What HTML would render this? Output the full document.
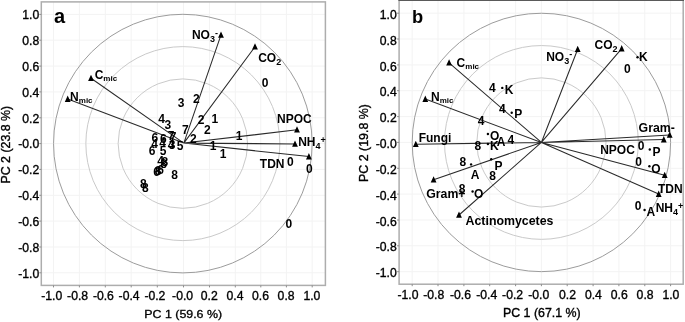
<!DOCTYPE html>
<html><head><meta charset="utf-8"><title>PCA biplots</title>
<style>
html,body{margin:0;padding:0;background:#fff;}
svg{display:block;font-family:"Liberation Sans", Arial, sans-serif;}
.tk{font-size:12.2px;fill:#000;stroke:#000;stroke-width:0.35px;}
.ax{font-size:12.4px;fill:#000;stroke:#000;stroke-width:0.35px;}
.b{font-size:12px;font-weight:bold;fill:#000;}
.s{font-size:9px;font-weight:bold;fill:#000;}
.m{font-size:8px;font-weight:bold;fill:#000;}
.pl{font-size:20.5px;font-weight:bold;fill:#000;}
</style></head><body>
<svg width="685" height="322" viewBox="0 0 685 322">
<rect width="685" height="322" fill="#fff"/>

<g id="panel-a">
<path d="M53.5 1.9V285.4M41.3 272.8H325.4M79.4 1.9V285.4M41.3 247.0H325.4M105.3 1.9V285.4M41.3 221.1H325.4M131.2 1.9V285.4M41.3 195.3H325.4M157.3 1.9V285.4M41.3 169.4H325.4M183.5 1.9V285.4M41.3 143.6H325.4M209.5 1.9V285.4M41.3 117.8H325.4M235.3 1.9V285.4M41.3 91.9H325.4M260.8 1.9V285.4M41.3 66.1H325.4M286.4 1.9V285.4M41.3 40.2H325.4M312.2 1.9V285.4M41.3 14.4H325.4" stroke="#f3f3f3" stroke-width="1" fill="none"/>
<circle cx="182.85" cy="143.6" r="64.7" fill="none" stroke="#cacaca" stroke-width="1"/>
<circle cx="182.85" cy="143.6" r="97.0" fill="none" stroke="#cacaca" stroke-width="1"/>
<circle cx="182.85" cy="143.6" r="129.3" fill="none" stroke="#9c9c9c" stroke-width="1"/>
<rect x="41.3" y="1.9" width="284.1" height="283.5" fill="none" stroke="#adadad" stroke-width="1.5"/>
<text class="tk" x="39.2" y="277.6" text-anchor="end">-1.0</text>
<text class="tk" x="51.8" y="300.0" text-anchor="middle">-1.0</text>
<text class="tk" x="39.2" y="251.8" text-anchor="end">-0.8</text>
<text class="tk" x="77.6" y="300.0" text-anchor="middle">-0.8</text>
<text class="tk" x="39.2" y="225.9" text-anchor="end">-0.6</text>
<text class="tk" x="103.4" y="300.0" text-anchor="middle">-0.6</text>
<text class="tk" x="39.2" y="200.1" text-anchor="end">-0.4</text>
<text class="tk" x="129.1" y="300.0" text-anchor="middle">-0.4</text>
<text class="tk" x="39.2" y="174.2" text-anchor="end">-0.2</text>
<text class="tk" x="154.9" y="300.0" text-anchor="middle">-0.2</text>
<text class="tk" x="39.2" y="148.4" text-anchor="end">-0.0</text>
<text class="tk" x="182.6" y="300.0" text-anchor="middle">-0.0</text>
<text class="tk" x="39.2" y="122.6" text-anchor="end">0.2</text>
<text class="tk" x="209.2" y="300.0" text-anchor="middle">0.2</text>
<text class="tk" x="39.2" y="96.7" text-anchor="end">0.4</text>
<text class="tk" x="235.0" y="300.0" text-anchor="middle">0.4</text>
<text class="tk" x="39.2" y="70.9" text-anchor="end">0.6</text>
<text class="tk" x="260.5" y="300.0" text-anchor="middle">0.6</text>
<text class="tk" x="39.2" y="45.0" text-anchor="end">0.8</text>
<text class="tk" x="286.1" y="300.0" text-anchor="middle">0.8</text>
<text class="tk" x="39.2" y="19.2" text-anchor="end">1.0</text>
<text class="tk" x="311.9" y="300.0" text-anchor="middle">1.0</text>
<path d="M53.5 285.4v2M41.3 272.8h-2M79.4 285.4v2M41.3 247.0h-2M105.3 285.4v2M41.3 221.1h-2M131.2 285.4v2M41.3 195.3h-2M157.3 285.4v2M41.3 169.4h-2M183.5 285.4v2M41.3 143.6h-2M209.5 285.4v2M41.3 117.8h-2M235.3 285.4v2M41.3 91.9h-2M260.8 285.4v2M41.3 66.1h-2M286.4 285.4v2M41.3 40.2h-2M312.2 285.4v2M41.3 14.4h-2" stroke="#8c8c8c" stroke-width="1" fill="none"/>
<text class="ax" transform="translate(183.2 317.9) scale(1 0.9)" text-anchor="middle">PC 1 (59.6 %)</text>
<text class="ax" transform="translate(10.2 144.7) rotate(-90)" text-anchor="middle">PC 2 (23.8 %)</text>
<text class="pl" style="font-size:20px" x="54" y="23.2">a</text>
<path d="M183.8 143.1L221 34.9M183.8 143.1L255 46.8M183.8 143.1L91 78.3M183.8 143.1L67.7 99.1M183.8 143.1L297 129.8M183.8 143.1L295 143.9M183.8 143.1L308.9 156.6" stroke="#2a2a2a" stroke-width="1.05" fill="none"/>
<path d="M218.1 37.7L223.9 37.7L221.0 31.4ZM252.1 49.6L257.9 49.6L255.0 43.3ZM88.1 81.1L93.9 81.1L91.0 74.8ZM64.8 101.9L70.6 101.9L67.7 95.6ZM294.1 132.6L299.9 132.6L297.0 126.3ZM292.1 146.7L297.9 146.7L295.0 140.4ZM306.0 159.4L311.8 159.4L308.9 153.1Z" fill="#000"/>
<text class="b" x="181.2" y="107.0" text-anchor="middle">3</text>
<text class="b" x="196.3" y="103.4" text-anchor="middle">2</text>
<text class="b" x="161.7" y="123.0" text-anchor="middle">4</text>
<text class="b" x="167.9" y="129.1" text-anchor="middle">3</text>
<text class="b" x="185.3" y="133.6" text-anchor="middle">7</text>
<text class="b" x="193.4" y="142.9" text-anchor="middle">2</text>
<text class="b" x="154.8" y="142.2" text-anchor="middle">6</text>
<text class="b" x="163.4" y="142.9" text-anchor="middle">6</text>
<text class="b" x="171.2" y="139.9" text-anchor="middle">7</text>
<text class="b" x="173.0" y="140.7" text-anchor="middle">7</text>
<text class="b" x="172.0" y="149.2" text-anchor="middle">3</text>
<text class="b" x="171.0" y="148.6" text-anchor="middle">4</text>
<text class="b" x="180.1" y="150.3" text-anchor="middle">5</text>
<text class="b" x="154.6" y="147.7" text-anchor="middle">4</text>
<text class="b" x="162.6" y="147.3" text-anchor="middle">4</text>
<text class="b" x="152.1" y="154.6" text-anchor="middle">6</text>
<text class="b" x="163.2" y="155.2" text-anchor="middle">5</text>
<text class="b" x="160.7" y="164.8" text-anchor="middle">4</text>
<text class="b" x="164.8" y="166.4" text-anchor="middle">8</text>
<text class="b" x="163.5" y="168.3" text-anchor="middle">8</text>
<text class="b" x="156.6" y="176.0" text-anchor="middle">6</text>
<text class="b" x="158.0" y="175.3" text-anchor="middle">8</text>
<text class="b" x="160.7" y="173.5" text-anchor="middle">6</text>
<text class="b" x="174.6" y="178.7" text-anchor="middle">8</text>
<text class="b" x="143.3" y="188.3" text-anchor="middle">8</text>
<text class="b" x="145.3" y="192.4" text-anchor="middle">8</text>
<text class="b" x="201.1" y="124.0" text-anchor="middle">2</text>
<text class="b" x="214.8" y="123.3" text-anchor="middle">1</text>
<text class="b" x="207.3" y="134.0" text-anchor="middle">2</text>
<text class="b" x="239.1" y="139.9" text-anchor="middle">1</text>
<text class="b" x="213.0" y="149.6" text-anchor="middle">1</text>
<text class="b" x="223.0" y="157.5" text-anchor="middle">1</text>
<text class="b" x="265.2" y="86.9" text-anchor="middle">0</text>
<text class="b" x="288.8" y="227.9" text-anchor="middle">0</text>
<text class="b" x="290.3" y="166.3" text-anchor="middle">0</text>
<text class="b" x="309.4" y="172.5" text-anchor="middle">0</text>
<text class="b" x="191.9" y="39.4" text-anchor="start">NO<tspan class="s" dy="3">3</tspan><tspan class="s" dy="-6.5">-</tspan></text>
<text class="b" x="258.2" y="61.7" text-anchor="start">CO<tspan class="s" dy="3">2</tspan></text>
<text class="b" x="94.7" y="79.2" text-anchor="start">C<tspan class="m" dy="2.1">mic</tspan></text>
<text class="b" x="70.1" y="101.2" text-anchor="start">N<tspan class="m" dy="2.1">mic</tspan></text>
<text class="b" x="277.1" y="122.8" text-anchor="start">NPOC</text>
<text class="b" x="298.2" y="145.9" text-anchor="start">NH<tspan class="s" dy="3">4</tspan><tspan class="s" dy="-5.5">+</tspan></text>
<text class="b" x="259.8" y="168.2" text-anchor="start">TDN</text>
</g>
<g id="panel-b">
<path d="M412.2 0.2V284.2M399.1 271.7H683.2M438.0 0.2V284.2M399.1 245.8H683.2M463.9 0.2V284.2M399.1 220.0H683.2M489.7 0.2V284.2M399.1 194.1H683.2M515.6 0.2V284.2M399.1 168.3H683.2M541.4 0.2V284.2M399.1 142.4H683.2M567.2 0.2V284.2M399.1 116.6H683.2M593.1 0.2V284.2M399.1 90.7H683.2M618.9 0.2V284.2M399.1 64.9H683.2M644.8 0.2V284.2M399.1 39.0H683.2M670.6 0.2V284.2M399.1 13.2H683.2" stroke="#f3f3f3" stroke-width="1" fill="none"/>
<circle cx="541.4" cy="142.45" r="64.6" fill="none" stroke="#cacaca" stroke-width="1"/>
<circle cx="541.4" cy="142.45" r="96.9" fill="none" stroke="#cacaca" stroke-width="1"/>
<circle cx="541.4" cy="142.45" r="129.2" fill="none" stroke="#9c9c9c" stroke-width="1"/>
<rect x="399.1" y="0.2" width="284.1" height="284.0" fill="none" stroke="#adadad" stroke-width="1.5"/>
<text class="tk" x="396.7" y="277.3" text-anchor="end">-1.0</text>
<text class="tk" x="408.0" y="298.6" text-anchor="middle">-1.0</text>
<text class="tk" x="396.7" y="251.4" text-anchor="end">-0.8</text>
<text class="tk" x="433.8" y="298.6" text-anchor="middle">-0.8</text>
<text class="tk" x="396.7" y="225.6" text-anchor="end">-0.6</text>
<text class="tk" x="460.5" y="298.6" text-anchor="middle">-0.6</text>
<text class="tk" x="396.7" y="199.7" text-anchor="end">-0.4</text>
<text class="tk" x="486.7" y="298.6" text-anchor="middle">-0.4</text>
<text class="tk" x="396.7" y="173.9" text-anchor="end">-0.2</text>
<text class="tk" x="512.6" y="298.6" text-anchor="middle">-0.2</text>
<text class="tk" x="396.7" y="148.0" text-anchor="end">-0.0</text>
<text class="tk" x="538.8" y="298.6" text-anchor="middle">-0.0</text>
<text class="tk" x="396.7" y="122.2" text-anchor="end">0.2</text>
<text class="tk" x="567.5" y="298.6" text-anchor="middle">0.2</text>
<text class="tk" x="396.7" y="96.3" text-anchor="end">0.4</text>
<text class="tk" x="593.4" y="298.6" text-anchor="middle">0.4</text>
<text class="tk" x="396.7" y="70.5" text-anchor="end">0.6</text>
<text class="tk" x="619.2" y="298.6" text-anchor="middle">0.6</text>
<text class="tk" x="396.7" y="44.6" text-anchor="end">0.8</text>
<text class="tk" x="645.1" y="298.6" text-anchor="middle">0.8</text>
<text class="tk" x="396.7" y="18.8" text-anchor="end">1.0</text>
<text class="tk" x="670.9" y="298.6" text-anchor="middle">1.0</text>
<path d="M412.2 284.2v2M399.1 271.7h-2M438.0 284.2v2M399.1 245.8h-2M463.9 284.2v2M399.1 220.0h-2M489.7 284.2v2M399.1 194.1h-2M515.6 284.2v2M399.1 168.3h-2M541.4 284.2v2M399.1 142.4h-2M567.2 284.2v2M399.1 116.6h-2M593.1 284.2v2M399.1 90.7h-2M618.9 284.2v2M399.1 64.9h-2M644.8 284.2v2M399.1 39.0h-2M670.6 284.2v2M399.1 13.2h-2" stroke="#8c8c8c" stroke-width="1" fill="none"/>
<text class="ax" transform="translate(541.8 316.6) scale(1 1)" text-anchor="middle">PC 1 (67.1 %)</text>
<text class="ax" transform="translate(368.0 143.0) rotate(-90)" text-anchor="middle">PC 2 (19.8 %)</text>
<text class="pl" style="font-size:18.3px" x="412" y="23.2">b</text>
<rect x="398.4" y="0" width="285.6" height="1" fill="#5a5a5a"/>
<path d="M541.4 142.45L449.1 62.8M541.4 142.45L425.3 99.1M541.4 142.45L415.8 144.2M541.4 142.45L433.6 179.8M541.4 142.45L459 215.0M541.4 142.45L577.7 49.3M541.4 142.45L621.7 48.6M541.4 142.45L669.7 135M541.4 142.45L663.8 139.6M541.4 142.45L664.7 175.3M541.4 142.45L658.7 194.1" stroke="#2a2a2a" stroke-width="1.05" fill="none"/>
<path d="M446.2 65.6L452.0 65.6L449.1 59.3ZM422.4 101.9L428.2 101.9L425.3 95.6ZM412.9 147.0L418.7 147.0L415.8 140.7ZM430.7 182.6L436.5 182.6L433.6 176.3ZM456.1 217.8L461.9 217.8L459.0 211.5ZM574.8 52.1L580.6 52.1L577.7 45.8ZM618.8 51.4L624.6 51.4L621.7 45.1ZM666.8 137.8L672.6 137.8L669.7 131.5ZM660.9 142.4L666.7 142.4L663.8 136.1ZM661.8 178.1L667.6 178.1L664.7 171.8ZM655.8 196.9L661.6 196.9L658.7 190.6Z" fill="#000"/>
<text class="b" x="492.3" y="92.1" text-anchor="middle">4</text>
<text class="b" x="502.3" y="112.8" text-anchor="middle">4</text>
<text class="b" x="481.2" y="124.7" text-anchor="middle">4</text>
<text class="b" x="510.9" y="143.8" text-anchor="middle">4</text>
<text class="b" x="477.9" y="149.7" text-anchor="middle">8</text>
<text class="b" x="462.8" y="165.6" text-anchor="middle">8</text>
<text class="b" x="492.5" y="180.3" text-anchor="middle">8</text>
<text class="b" x="462.2" y="192.7" text-anchor="middle">8</text>
<text class="b" x="627.3" y="72.7" text-anchor="middle">0</text>
<text class="b" x="641.0" y="149.7" text-anchor="middle">0</text>
<text class="b" x="638.6" y="165.9" text-anchor="middle">0</text>
<text class="b" x="638.2" y="210.0" text-anchor="middle">0</text>
<text class="b" x="501.0" y="145.8" text-anchor="middle">A</text>
<text class="b" x="475.2" y="179.1" text-anchor="middle">A</text>
<circle cx="502.3" cy="87.9" r="1.2" fill="#000"/>
<circle cx="511.7" cy="112.7" r="1.2" fill="#000"/>
<circle cx="487.9" cy="134" r="1.2" fill="#000"/>
<circle cx="487.9" cy="144" r="1.2" fill="#000"/>
<circle cx="471.1" cy="164.4" r="1.2" fill="#000"/>
<circle cx="491.2" cy="159.2" r="1.2" fill="#000"/>
<circle cx="472.6" cy="191.5" r="1.2" fill="#000"/>
<circle cx="637.5" cy="57.2" r="1.2" fill="#000"/>
<circle cx="649.8" cy="149.5" r="1.2" fill="#000"/>
<circle cx="649.4" cy="166.2" r="1.2" fill="#000"/>
<circle cx="644.6" cy="210" r="1.2" fill="#000"/>
<text class="b" x="504.7" y="93.6" text-anchor="start">K</text>
<text class="b" x="514.2" y="117.6" text-anchor="start">P</text>
<text class="b" x="489.9" y="140" text-anchor="start">O</text>
<text class="b" x="489.9" y="150" text-anchor="start">K</text>
<text class="b" x="494.4" y="170.3" text-anchor="start">P</text>
<text class="b" x="474.1" y="198.0" text-anchor="start">O</text>
<text class="b" x="638.9" y="61.1" text-anchor="start">K</text>
<text class="b" x="652.6" y="155.7" text-anchor="start">P</text>
<text class="b" x="651.3" y="172.5" text-anchor="start">O</text>
<text class="b" x="646.4" y="215.6" text-anchor="start">A</text>
<text class="b" x="456.6" y="66.8" text-anchor="start">C<tspan class="m" dy="2.1">mic</tspan></text>
<text class="b" x="431" y="100.8" text-anchor="start">N<tspan class="m" dy="2.1">mic</tspan></text>
<text class="b" x="418.7" y="142" text-anchor="start">Fungi</text>
<text class="b" style="font-size:12.3px" x="426.2" y="198.3" text-anchor="start">Gram+</text>
<text class="b" style="font-size:12.35px" x="465.6" y="224.8" text-anchor="start">Actinomycetes</text>
<text class="b" x="546.2" y="60.9" text-anchor="start">NO<tspan class="s" dy="3">3</tspan><tspan class="s" dy="-6.5">-</tspan></text>
<text class="b" x="594.6" y="48.5" text-anchor="start">CO<tspan class="s" dy="3">2</tspan></text>
<text class="b" style="font-size:12.3px" x="638.6" y="132.4" text-anchor="start">Gram-</text>
<text class="b" x="600.2" y="154.2" text-anchor="start">NPOC</text>
<text class="b" x="657.9" y="192.8" text-anchor="start">TDN</text>
<text class="b" x="655.7" y="211.9" text-anchor="start">NH<tspan class="s" dy="3">4</tspan><tspan class="s" dy="-5.5">+</tspan></text>
</g>
</svg></body></html>
